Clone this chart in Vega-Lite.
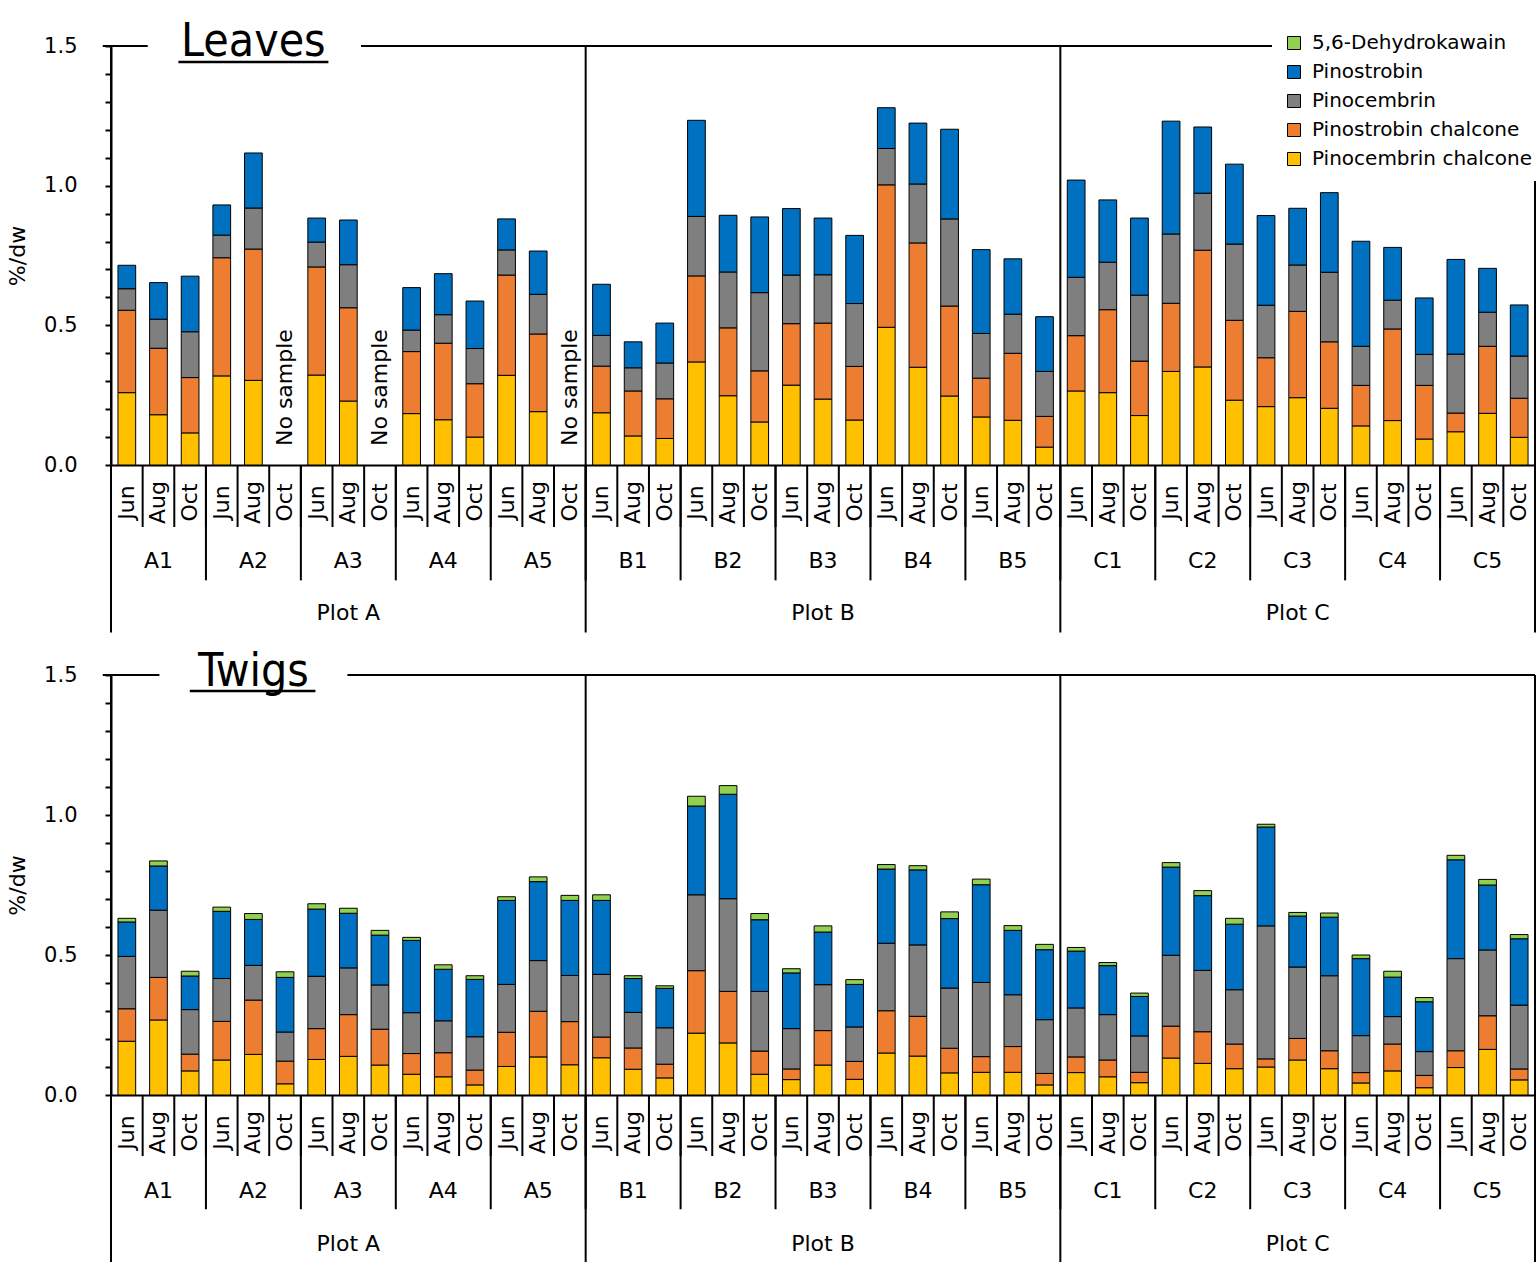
{
"$schema": "https://vega.github.io/schema/vega-lite/v6.json",
"background": "white",
"padding": {"left": 6, "top": 19, "right": 0, "bottom": 0},
"config": {"view": {"stroke": null}, "font": "DejaVu Sans", "axis": {"grid": false, "labelOverlap": false, "labelColor": "black", "domainColor": "black", "tickColor": "black", "titleColor": "black"}, "text": {"color": "black"}},
"spacing": 210,
"bounds": "flush",
"resolve": {"legend": {"color": "independent"}},
"datasets": {
"leaves": [
{"sample":"A1 Jun","plot":"Plot A","tree":"A1","month":"Jun","Pinocembrin chalcone":0.259,"Pinostrobin chalcone":0.295,"Pinocembrin":0.077,"Pinostrobin":0.084},
{"sample":"A1 Aug","plot":"Plot A","tree":"A1","month":"Aug","Pinocembrin chalcone":0.180,"Pinostrobin chalcone":0.238,"Pinocembrin":0.104,"Pinostrobin":0.131},
{"sample":"A1 Oct","plot":"Plot A","tree":"A1","month":"Oct","Pinocembrin chalcone":0.115,"Pinostrobin chalcone":0.198,"Pinocembrin":0.164,"Pinostrobin":0.199},
{"sample":"A2 Jun","plot":"Plot A","tree":"A2","month":"Jun","Pinocembrin chalcone":0.319,"Pinostrobin chalcone":0.423,"Pinocembrin":0.081,"Pinostrobin":0.108},
{"sample":"A2 Aug","plot":"Plot A","tree":"A2","month":"Aug","Pinocembrin chalcone":0.303,"Pinostrobin chalcone":0.470,"Pinocembrin":0.147,"Pinostrobin":0.197},
{"sample":"A2 Oct","plot":"Plot A","tree":"A2","month":"Oct"},
{"sample":"A3 Jun","plot":"Plot A","tree":"A3","month":"Jun","Pinocembrin chalcone":0.322,"Pinostrobin chalcone":0.387,"Pinocembrin":0.089,"Pinostrobin":0.086},
{"sample":"A3 Aug","plot":"Plot A","tree":"A3","month":"Aug","Pinocembrin chalcone":0.229,"Pinostrobin chalcone":0.334,"Pinocembrin":0.154,"Pinostrobin":0.160},
{"sample":"A3 Oct","plot":"Plot A","tree":"A3","month":"Oct"},
{"sample":"A4 Jun","plot":"Plot A","tree":"A4","month":"Jun","Pinocembrin chalcone":0.184,"Pinostrobin chalcone":0.222,"Pinocembrin":0.077,"Pinostrobin":0.152},
{"sample":"A4 Aug","plot":"Plot A","tree":"A4","month":"Aug","Pinocembrin chalcone":0.162,"Pinostrobin chalcone":0.274,"Pinocembrin":0.102,"Pinostrobin":0.147},
{"sample":"A4 Oct","plot":"Plot A","tree":"A4","month":"Oct","Pinocembrin chalcone":0.100,"Pinostrobin chalcone":0.191,"Pinocembrin":0.126,"Pinostrobin":0.170},
{"sample":"A5 Jun","plot":"Plot A","tree":"A5","month":"Jun","Pinocembrin chalcone":0.321,"Pinostrobin chalcone":0.359,"Pinocembrin":0.090,"Pinostrobin":0.111},
{"sample":"A5 Aug","plot":"Plot A","tree":"A5","month":"Aug","Pinocembrin chalcone":0.191,"Pinostrobin chalcone":0.278,"Pinocembrin":0.142,"Pinostrobin":0.155},
{"sample":"A5 Oct","plot":"Plot A","tree":"A5","month":"Oct"},
{"sample":"B1 Jun","plot":"Plot B","tree":"B1","month":"Jun","Pinocembrin chalcone":0.187,"Pinostrobin chalcone":0.167,"Pinocembrin":0.110,"Pinostrobin":0.183},
{"sample":"B1 Aug","plot":"Plot B","tree":"B1","month":"Aug","Pinocembrin chalcone":0.104,"Pinostrobin chalcone":0.161,"Pinocembrin":0.083,"Pinostrobin":0.093},
{"sample":"B1 Oct","plot":"Plot B","tree":"B1","month":"Oct","Pinocembrin chalcone":0.095,"Pinostrobin chalcone":0.142,"Pinocembrin":0.128,"Pinostrobin":0.143},
{"sample":"B2 Jun","plot":"Plot B","tree":"B2","month":"Jun","Pinocembrin chalcone":0.369,"Pinostrobin chalcone":0.308,"Pinocembrin":0.213,"Pinostrobin":0.344},
{"sample":"B2 Aug","plot":"Plot B","tree":"B2","month":"Aug","Pinocembrin chalcone":0.248,"Pinostrobin chalcone":0.243,"Pinocembrin":0.200,"Pinostrobin":0.203},
{"sample":"B2 Oct","plot":"Plot B","tree":"B2","month":"Oct","Pinocembrin chalcone":0.154,"Pinostrobin chalcone":0.183,"Pinocembrin":0.280,"Pinostrobin":0.271},
{"sample":"B3 Jun","plot":"Plot B","tree":"B3","month":"Jun","Pinocembrin chalcone":0.286,"Pinostrobin chalcone":0.220,"Pinocembrin":0.174,"Pinostrobin":0.238},
{"sample":"B3 Aug","plot":"Plot B","tree":"B3","month":"Aug","Pinocembrin chalcone":0.236,"Pinostrobin chalcone":0.272,"Pinocembrin":0.173,"Pinostrobin":0.203},
{"sample":"B3 Oct","plot":"Plot B","tree":"B3","month":"Oct","Pinocembrin chalcone":0.161,"Pinostrobin chalcone":0.192,"Pinocembrin":0.225,"Pinostrobin":0.244},
{"sample":"B4 Jun","plot":"Plot B","tree":"B4","month":"Jun","Pinocembrin chalcone":0.493,"Pinostrobin chalcone":0.510,"Pinocembrin":0.130,"Pinostrobin":0.146},
{"sample":"B4 Aug","plot":"Plot B","tree":"B4","month":"Aug","Pinocembrin chalcone":0.350,"Pinostrobin chalcone":0.445,"Pinocembrin":0.211,"Pinostrobin":0.218},
{"sample":"B4 Oct","plot":"Plot B","tree":"B4","month":"Oct","Pinocembrin chalcone":0.247,"Pinostrobin chalcone":0.322,"Pinocembrin":0.312,"Pinostrobin":0.321},
{"sample":"B5 Jun","plot":"Plot B","tree":"B5","month":"Jun","Pinocembrin chalcone":0.172,"Pinostrobin chalcone":0.139,"Pinocembrin":0.160,"Pinostrobin":0.300},
{"sample":"B5 Aug","plot":"Plot B","tree":"B5","month":"Aug","Pinocembrin chalcone":0.160,"Pinostrobin chalcone":0.240,"Pinocembrin":0.140,"Pinostrobin":0.198},
{"sample":"B5 Oct","plot":"Plot B","tree":"B5","month":"Oct","Pinocembrin chalcone":0.064,"Pinostrobin chalcone":0.110,"Pinocembrin":0.161,"Pinostrobin":0.196},
{"sample":"C1 Jun","plot":"Plot C","tree":"C1","month":"Jun","Pinocembrin chalcone":0.265,"Pinostrobin chalcone":0.198,"Pinocembrin":0.209,"Pinostrobin":0.348},
{"sample":"C1 Aug","plot":"Plot C","tree":"C1","month":"Aug","Pinocembrin chalcone":0.259,"Pinostrobin chalcone":0.297,"Pinocembrin":0.170,"Pinostrobin":0.223},
{"sample":"C1 Oct","plot":"Plot C","tree":"C1","month":"Oct","Pinocembrin chalcone":0.177,"Pinostrobin chalcone":0.195,"Pinocembrin":0.236,"Pinostrobin":0.276},
{"sample":"C2 Jun","plot":"Plot C","tree":"C2","month":"Jun","Pinocembrin chalcone":0.335,"Pinostrobin chalcone":0.244,"Pinocembrin":0.248,"Pinostrobin":0.404},
{"sample":"C2 Aug","plot":"Plot C","tree":"C2","month":"Aug","Pinocembrin chalcone":0.351,"Pinostrobin chalcone":0.418,"Pinocembrin":0.204,"Pinostrobin":0.237},
{"sample":"C2 Oct","plot":"Plot C","tree":"C2","month":"Oct","Pinocembrin chalcone":0.232,"Pinostrobin chalcone":0.286,"Pinocembrin":0.273,"Pinostrobin":0.286},
{"sample":"C3 Jun","plot":"Plot C","tree":"C3","month":"Jun","Pinocembrin chalcone":0.209,"Pinostrobin chalcone":0.175,"Pinocembrin":0.188,"Pinostrobin":0.321},
{"sample":"C3 Aug","plot":"Plot C","tree":"C3","month":"Aug","Pinocembrin chalcone":0.241,"Pinostrobin chalcone":0.309,"Pinocembrin":0.166,"Pinostrobin":0.203},
{"sample":"C3 Oct","plot":"Plot C","tree":"C3","month":"Oct","Pinocembrin chalcone":0.203,"Pinostrobin chalcone":0.238,"Pinocembrin":0.249,"Pinostrobin":0.285},
{"sample":"C4 Jun","plot":"Plot C","tree":"C4","month":"Jun","Pinocembrin chalcone":0.140,"Pinostrobin chalcone":0.145,"Pinocembrin":0.140,"Pinostrobin":0.376},
{"sample":"C4 Aug","plot":"Plot C","tree":"C4","month":"Aug","Pinocembrin chalcone":0.159,"Pinostrobin chalcone":0.328,"Pinocembrin":0.103,"Pinostrobin":0.189},
{"sample":"C4 Oct","plot":"Plot C","tree":"C4","month":"Oct","Pinocembrin chalcone":0.093,"Pinostrobin chalcone":0.192,"Pinocembrin":0.111,"Pinostrobin":0.202},
{"sample":"C5 Jun","plot":"Plot C","tree":"C5","month":"Jun","Pinocembrin chalcone":0.119,"Pinostrobin chalcone":0.067,"Pinocembrin":0.211,"Pinostrobin":0.339},
{"sample":"C5 Aug","plot":"Plot C","tree":"C5","month":"Aug","Pinocembrin chalcone":0.185,"Pinostrobin chalcone":0.240,"Pinocembrin":0.122,"Pinostrobin":0.157},
{"sample":"C5 Oct","plot":"Plot C","tree":"C5","month":"Oct","Pinocembrin chalcone":0.099,"Pinostrobin chalcone":0.140,"Pinocembrin":0.151,"Pinostrobin":0.183}
],
"twigs": [
{"sample":"A1 Jun","plot":"Plot A","tree":"A1","month":"Jun","Pinocembrin chalcone":0.192,"Pinostrobin chalcone":0.116,"Pinocembrin":0.187,"Pinostrobin":0.123,"5,6-Dehydrokawain":0.013},
{"sample":"A1 Aug","plot":"Plot A","tree":"A1","month":"Aug","Pinocembrin chalcone":0.268,"Pinostrobin chalcone":0.152,"Pinocembrin":0.240,"Pinostrobin":0.158,"5,6-Dehydrokawain":0.018},
{"sample":"A1 Oct","plot":"Plot A","tree":"A1","month":"Oct","Pinocembrin chalcone":0.086,"Pinostrobin chalcone":0.060,"Pinocembrin":0.159,"Pinostrobin":0.120,"5,6-Dehydrokawain":0.017},
{"sample":"A2 Jun","plot":"Plot A","tree":"A2","month":"Jun","Pinocembrin chalcone":0.125,"Pinostrobin chalcone":0.138,"Pinocembrin":0.153,"Pinostrobin":0.240,"5,6-Dehydrokawain":0.015},
{"sample":"A2 Aug","plot":"Plot A","tree":"A2","month":"Aug","Pinocembrin chalcone":0.145,"Pinostrobin chalcone":0.194,"Pinocembrin":0.124,"Pinostrobin":0.164,"5,6-Dehydrokawain":0.021},
{"sample":"A2 Oct","plot":"Plot A","tree":"A2","month":"Oct","Pinocembrin chalcone":0.040,"Pinostrobin chalcone":0.081,"Pinocembrin":0.104,"Pinostrobin":0.195,"5,6-Dehydrokawain":0.020},
{"sample":"A3 Jun","plot":"Plot A","tree":"A3","month":"Jun","Pinocembrin chalcone":0.127,"Pinostrobin chalcone":0.110,"Pinocembrin":0.187,"Pinostrobin":0.240,"5,6-Dehydrokawain":0.019},
{"sample":"A3 Aug","plot":"Plot A","tree":"A3","month":"Aug","Pinocembrin chalcone":0.138,"Pinostrobin chalcone":0.149,"Pinocembrin":0.167,"Pinostrobin":0.195,"5,6-Dehydrokawain":0.018},
{"sample":"A3 Oct","plot":"Plot A","tree":"A3","month":"Oct","Pinocembrin chalcone":0.107,"Pinostrobin chalcone":0.128,"Pinocembrin":0.158,"Pinostrobin":0.178,"5,6-Dehydrokawain":0.017},
{"sample":"A4 Jun","plot":"Plot A","tree":"A4","month":"Jun","Pinocembrin chalcone":0.074,"Pinostrobin chalcone":0.074,"Pinocembrin":0.146,"Pinostrobin":0.258,"5,6-Dehydrokawain":0.011},
{"sample":"A4 Aug","plot":"Plot A","tree":"A4","month":"Aug","Pinocembrin chalcone":0.065,"Pinostrobin chalcone":0.086,"Pinocembrin":0.114,"Pinostrobin":0.184,"5,6-Dehydrokawain":0.016},
{"sample":"A4 Oct","plot":"Plot A","tree":"A4","month":"Oct","Pinocembrin chalcone":0.036,"Pinostrobin chalcone":0.053,"Pinocembrin":0.119,"Pinostrobin":0.205,"5,6-Dehydrokawain":0.013},
{"sample":"A5 Jun","plot":"Plot A","tree":"A5","month":"Jun","Pinocembrin chalcone":0.102,"Pinostrobin chalcone":0.122,"Pinocembrin":0.171,"Pinostrobin":0.300,"5,6-Dehydrokawain":0.013},
{"sample":"A5 Aug","plot":"Plot A","tree":"A5","month":"Aug","Pinocembrin chalcone":0.136,"Pinostrobin chalcone":0.163,"Pinocembrin":0.181,"Pinostrobin":0.282,"5,6-Dehydrokawain":0.017},
{"sample":"A5 Oct","plot":"Plot A","tree":"A5","month":"Oct","Pinocembrin chalcone":0.108,"Pinostrobin chalcone":0.154,"Pinocembrin":0.165,"Pinostrobin":0.268,"5,6-Dehydrokawain":0.018},
{"sample":"B1 Jun","plot":"Plot B","tree":"B1","month":"Jun","Pinocembrin chalcone":0.133,"Pinostrobin chalcone":0.074,"Pinocembrin":0.224,"Pinostrobin":0.264,"5,6-Dehydrokawain":0.020},
{"sample":"B1 Aug","plot":"Plot B","tree":"B1","month":"Aug","Pinocembrin chalcone":0.092,"Pinostrobin chalcone":0.076,"Pinocembrin":0.127,"Pinostrobin":0.121,"5,6-Dehydrokawain":0.010},
{"sample":"B1 Oct","plot":"Plot B","tree":"B1","month":"Oct","Pinocembrin chalcone":0.061,"Pinostrobin chalcone":0.049,"Pinocembrin":0.130,"Pinostrobin":0.141,"5,6-Dehydrokawain":0.009},
{"sample":"B2 Jun","plot":"Plot B","tree":"B2","month":"Jun","Pinocembrin chalcone":0.221,"Pinostrobin chalcone":0.223,"Pinocembrin":0.271,"Pinostrobin":0.317,"5,6-Dehydrokawain":0.035},
{"sample":"B2 Aug","plot":"Plot B","tree":"B2","month":"Aug","Pinocembrin chalcone":0.186,"Pinostrobin chalcone":0.184,"Pinocembrin":0.331,"Pinostrobin":0.373,"5,6-Dehydrokawain":0.031},
{"sample":"B2 Oct","plot":"Plot B","tree":"B2","month":"Oct","Pinocembrin chalcone":0.074,"Pinostrobin chalcone":0.083,"Pinocembrin":0.213,"Pinostrobin":0.256,"5,6-Dehydrokawain":0.022},
{"sample":"B3 Jun","plot":"Plot B","tree":"B3","month":"Jun","Pinocembrin chalcone":0.055,"Pinostrobin chalcone":0.038,"Pinocembrin":0.144,"Pinostrobin":0.199,"5,6-Dehydrokawain":0.015},
{"sample":"B3 Aug","plot":"Plot B","tree":"B3","month":"Aug","Pinocembrin chalcone":0.107,"Pinostrobin chalcone":0.123,"Pinocembrin":0.164,"Pinostrobin":0.188,"5,6-Dehydrokawain":0.022},
{"sample":"B3 Oct","plot":"Plot B","tree":"B3","month":"Oct","Pinocembrin chalcone":0.056,"Pinostrobin chalcone":0.064,"Pinocembrin":0.123,"Pinostrobin":0.152,"5,6-Dehydrokawain":0.017},
{"sample":"B4 Jun","plot":"Plot B","tree":"B4","month":"Jun","Pinocembrin chalcone":0.150,"Pinostrobin chalcone":0.151,"Pinocembrin":0.241,"Pinostrobin":0.265,"5,6-Dehydrokawain":0.016},
{"sample":"B4 Aug","plot":"Plot B","tree":"B4","month":"Aug","Pinocembrin chalcone":0.139,"Pinostrobin chalcone":0.142,"Pinocembrin":0.255,"Pinostrobin":0.268,"5,6-Dehydrokawain":0.015},
{"sample":"B4 Oct","plot":"Plot B","tree":"B4","month":"Oct","Pinocembrin chalcone":0.079,"Pinostrobin chalcone":0.088,"Pinocembrin":0.215,"Pinostrobin":0.248,"5,6-Dehydrokawain":0.024},
{"sample":"B5 Jun","plot":"Plot B","tree":"B5","month":"Jun","Pinocembrin chalcone":0.081,"Pinostrobin chalcone":0.056,"Pinocembrin":0.265,"Pinostrobin":0.349,"5,6-Dehydrokawain":0.020},
{"sample":"B5 Aug","plot":"Plot B","tree":"B5","month":"Aug","Pinocembrin chalcone":0.081,"Pinostrobin chalcone":0.092,"Pinocembrin":0.185,"Pinostrobin":0.230,"5,6-Dehydrokawain":0.017},
{"sample":"B5 Oct","plot":"Plot B","tree":"B5","month":"Oct","Pinocembrin chalcone":0.036,"Pinostrobin chalcone":0.041,"Pinocembrin":0.192,"Pinostrobin":0.250,"5,6-Dehydrokawain":0.019},
{"sample":"C1 Jun","plot":"Plot C","tree":"C1","month":"Jun","Pinocembrin chalcone":0.080,"Pinostrobin chalcone":0.056,"Pinocembrin":0.175,"Pinostrobin":0.203,"5,6-Dehydrokawain":0.013},
{"sample":"C1 Aug","plot":"Plot C","tree":"C1","month":"Aug","Pinocembrin chalcone":0.065,"Pinostrobin chalcone":0.060,"Pinocembrin":0.162,"Pinostrobin":0.175,"5,6-Dehydrokawain":0.011},
{"sample":"C1 Oct","plot":"Plot C","tree":"C1","month":"Oct","Pinocembrin chalcone":0.044,"Pinostrobin chalcone":0.037,"Pinocembrin":0.130,"Pinostrobin":0.141,"5,6-Dehydrokawain":0.012},
{"sample":"C2 Jun","plot":"Plot C","tree":"C2","month":"Jun","Pinocembrin chalcone":0.132,"Pinostrobin chalcone":0.114,"Pinocembrin":0.253,"Pinostrobin":0.315,"5,6-Dehydrokawain":0.016},
{"sample":"C2 Aug","plot":"Plot C","tree":"C2","month":"Aug","Pinocembrin chalcone":0.113,"Pinostrobin chalcone":0.113,"Pinocembrin":0.219,"Pinostrobin":0.267,"5,6-Dehydrokawain":0.018},
{"sample":"C2 Oct","plot":"Plot C","tree":"C2","month":"Oct","Pinocembrin chalcone":0.094,"Pinostrobin chalcone":0.088,"Pinocembrin":0.194,"Pinostrobin":0.234,"5,6-Dehydrokawain":0.021},
{"sample":"C3 Jun","plot":"Plot C","tree":"C3","month":"Jun","Pinocembrin chalcone":0.100,"Pinostrobin chalcone":0.029,"Pinocembrin":0.475,"Pinostrobin":0.353,"5,6-Dehydrokawain":0.010},
{"sample":"C3 Aug","plot":"Plot C","tree":"C3","month":"Aug","Pinocembrin chalcone":0.125,"Pinostrobin chalcone":0.077,"Pinocembrin":0.255,"Pinostrobin":0.182,"5,6-Dehydrokawain":0.013},
{"sample":"C3 Oct","plot":"Plot C","tree":"C3","month":"Oct","Pinocembrin chalcone":0.094,"Pinostrobin chalcone":0.064,"Pinocembrin":0.268,"Pinostrobin":0.209,"5,6-Dehydrokawain":0.015},
{"sample":"C4 Jun","plot":"Plot C","tree":"C4","month":"Jun","Pinocembrin chalcone":0.043,"Pinostrobin chalcone":0.037,"Pinocembrin":0.132,"Pinostrobin":0.275,"5,6-Dehydrokawain":0.013},
{"sample":"C4 Aug","plot":"Plot C","tree":"C4","month":"Aug","Pinocembrin chalcone":0.086,"Pinostrobin chalcone":0.096,"Pinocembrin":0.098,"Pinostrobin":0.141,"5,6-Dehydrokawain":0.021},
{"sample":"C4 Oct","plot":"Plot C","tree":"C4","month":"Oct","Pinocembrin chalcone":0.026,"Pinostrobin chalcone":0.044,"Pinocembrin":0.085,"Pinostrobin":0.178,"5,6-Dehydrokawain":0.015},
{"sample":"C5 Jun","plot":"Plot C","tree":"C5","month":"Jun","Pinocembrin chalcone":0.098,"Pinostrobin chalcone":0.060,"Pinocembrin":0.329,"Pinostrobin":0.353,"5,6-Dehydrokawain":0.016},
{"sample":"C5 Aug","plot":"Plot C","tree":"C5","month":"Aug","Pinocembrin chalcone":0.163,"Pinostrobin chalcone":0.120,"Pinocembrin":0.235,"Pinostrobin":0.232,"5,6-Dehydrokawain":0.020},
{"sample":"C5 Oct","plot":"Plot C","tree":"C5","month":"Oct","Pinocembrin chalcone":0.054,"Pinostrobin chalcone":0.039,"Pinocembrin":0.228,"Pinostrobin":0.237,"5,6-Dehydrokawain":0.015}
]
},
"vconcat": [
{
"width": 1424, "height": 419,
"data": {"name": "leaves"},
"layer": [
{"transform": [{"fold": ["Pinocembrin chalcone","Pinostrobin chalcone","Pinocembrin","Pinostrobin","5,6-Dehydrokawain"], "as": ["compound","value"]}],
 "mark": {"type": "bar", "width": {"band": 0.56}, "stroke": "black", "strokeWidth": 1},
 "encoding": {
  "x": {"field": "sample", "type": "nominal", "scale": {"domain": ["A1 Jun","A1 Aug","A1 Oct","A2 Jun","A2 Aug","A2 Oct","A3 Jun","A3 Aug","A3 Oct","A4 Jun","A4 Aug","A4 Oct","A5 Jun","A5 Aug","A5 Oct","B1 Jun","B1 Aug","B1 Oct","B2 Jun","B2 Aug","B2 Oct","B3 Jun","B3 Aug","B3 Oct","B4 Jun","B4 Aug","B4 Oct","B5 Jun","B5 Aug","B5 Oct","C1 Jun","C1 Aug","C1 Oct","C2 Jun","C2 Aug","C2 Oct","C3 Jun","C3 Aug","C3 Oct","C4 Jun","C4 Aug","C4 Oct","C5 Jun","C5 Aug","C5 Oct"], "paddingInner": 0, "paddingOuter": 0},
   "axis": {"title": null, "labelAngle": -90, "labelAlign": "center", "labelBaseline": "middle", "labelPadding": 37, "ticks": false, "tickSize": 0, "labelExpr": "split(datum.label, ' ')[1]", "labelFontSize": 22, "labelOverlap": false, "domainWidth": 2}},
  "y": {"field": "value", "type": "quantitative", "stack": "zero", "scale": {"domain": [0, 1.5], "nice": false},
   "axis": {"title": "%/dw", "values": [0,0.1,0.2,0.3,0.4,0.5,0.6,0.7,0.8,0.9,1.0,1.1,1.2,1.3,1.4,1.5], "format": ".1f", "labelOverlap": false, "labelExpr": "indexof(['0.0','0.5','1.0','1.5'], datum.label) >= 0 ? datum.label : ''", "tickSize": 6, "tickWidth": 2, "domainWidth": 2, "labelFontSize": 21, "labelPadding": 28, "titleFontSize": 22, "titleFontWeight": "normal", "titlePadding": 14}},
  "order": {"field": "sample", "type": "ordinal"},
  "color": {"field": "compound", "type": "nominal",
   "scale": {"domain": ["Pinocembrin chalcone","Pinostrobin chalcone","Pinocembrin","Pinostrobin","5,6-Dehydrokawain"], "range": ["#FFC000","#ED7D31","#7F7F7F","#0070C0","#92D050"]},
   "legend": {"values": ["5,6-Dehydrokawain","Pinostrobin","Pinocembrin","Pinostrobin chalcone","Pinocembrin chalcone"], "orient": "none", "legendX": 1161, "legendY": -25, "title": null, "symbolType": "square", "symbolSize": 169, "symbolStrokeColor": "black", "symbolStrokeWidth": 1, "labelFontSize": 20, "labelOffset": 8, "rowPadding": 9, "padding": 12, "fillColor": "white", "labelColor": "black", "labelLimit": 400}}
 }},
{"mark": {"type": "rule", "strokeWidth": 2, "color": "black"},
 "encoding": {"x": {"field": "sample", "type": "nominal", "bandPosition": 0}, "y": {"datum": 0, "axis": {"title": "%/dw", "values": [0,0.1,0.2,0.3,0.4,0.5,0.6,0.7,0.8,0.9,1.0,1.1,1.2,1.3,1.4,1.5], "format": ".1f", "labelOverlap": false, "labelExpr": "indexof(['0.0','0.5','1.0','1.5'], datum.label) >= 0 ? datum.label : ''", "tickSize": 6, "tickWidth": 2, "domainWidth": 2, "labelFontSize": 21, "labelPadding": 28, "titleFontSize": 22, "titleFontWeight": "normal", "titlePadding": 14}}, "y2": {"datum": -0.222}}},
{"transform": [{"filter": "datum.month == 'Jun'"}],
 "mark": {"type": "rule", "strokeWidth": 2, "color": "black"},
 "encoding": {"x": {"field": "sample", "type": "nominal", "bandPosition": 0}, "y": {"datum": 0, "axis": {"title": "%/dw", "values": [0,0.1,0.2,0.3,0.4,0.5,0.6,0.7,0.8,0.9,1.0,1.1,1.2,1.3,1.4,1.5], "format": ".1f", "labelOverlap": false, "labelExpr": "indexof(['0.0','0.5','1.0','1.5'], datum.label) >= 0 ? datum.label : ''", "tickSize": 6, "tickWidth": 2, "domainWidth": 2, "labelFontSize": 21, "labelPadding": 28, "titleFontSize": 22, "titleFontWeight": "normal", "titlePadding": 14}}, "y2": {"datum": -0.413}}},
{"transform": [{"filter": "datum.month == 'Jun' && (datum.tree == 'A1' || datum.tree == 'B1' || datum.tree == 'C1')"}],
 "mark": {"type": "rule", "strokeWidth": 2, "color": "black"},
 "encoding": {"x": {"field": "sample", "type": "nominal", "bandPosition": 0}, "y": {"datum": 1.5, "axis": {"title": "%/dw", "values": [0,0.1,0.2,0.3,0.4,0.5,0.6,0.7,0.8,0.9,1.0,1.1,1.2,1.3,1.4,1.5], "format": ".1f", "labelOverlap": false, "labelExpr": "indexof(['0.0','0.5','1.0','1.5'], datum.label) >= 0 ? datum.label : ''", "tickSize": 6, "tickWidth": 2, "domainWidth": 2, "labelFontSize": 21, "labelPadding": 28, "titleFontSize": 22, "titleFontWeight": "normal", "titlePadding": 14}}, "y2": {"datum": -0.6}}},
{"transform": [{"filter": "datum.sample == 'C5 Oct'"}],
 "mark": {"type": "rule", "strokeWidth": 2, "color": "black"},
 "encoding": {"x": {"field": "sample", "type": "nominal", "bandPosition": 1}, "y": {"datum": 1.5, "axis": {"title": "%/dw", "values": [0,0.1,0.2,0.3,0.4,0.5,0.6,0.7,0.8,0.9,1.0,1.1,1.2,1.3,1.4,1.5], "format": ".1f", "labelOverlap": false, "labelExpr": "indexof(['0.0','0.5','1.0','1.5'], datum.label) >= 0 ? datum.label : ''", "tickSize": 6, "tickWidth": 2, "domainWidth": 2, "labelFontSize": 21, "labelPadding": 28, "titleFontSize": 22, "titleFontWeight": "normal", "titlePadding": 14}}, "y2": {"datum": -0.6}}},
{"data": {"values": [{}]},
 "mark": {"type": "rule", "strokeWidth": 2, "color": "black"},
 "encoding": {"x": {"datum": "A1 Jun", "bandPosition": -0.26}, "x2": {"datum": "A1 Aug", "bandPosition": 0.16}, "y": {"datum": 1.5, "axis": {"title": "%/dw", "values": [0,0.1,0.2,0.3,0.4,0.5,0.6,0.7,0.8,0.9,1.0,1.1,1.2,1.3,1.4,1.5], "format": ".1f", "labelOverlap": false, "labelExpr": "indexof(['0.0','0.5','1.0','1.5'], datum.label) >= 0 ? datum.label : ''", "tickSize": 6, "tickWidth": 2, "domainWidth": 2, "labelFontSize": 21, "labelPadding": 28, "titleFontSize": 22, "titleFontWeight": "normal", "titlePadding": 14}}}},
{"data": {"values": [{}]},
 "mark": {"type": "rule", "strokeWidth": 2, "color": "black"},
 "encoding": {"x": {"datum": "A3 Aug", "bandPosition": 0.9}, "x2": {"datum": "C5 Oct", "bandPosition": 1}, "y": {"datum": 1.5, "axis": {"title": "%/dw", "values": [0,0.1,0.2,0.3,0.4,0.5,0.6,0.7,0.8,0.9,1.0,1.1,1.2,1.3,1.4,1.5], "format": ".1f", "labelOverlap": false, "labelExpr": "indexof(['0.0','0.5','1.0','1.5'], datum.label) >= 0 ? datum.label : ''", "tickSize": 6, "tickWidth": 2, "domainWidth": 2, "labelFontSize": 21, "labelPadding": 28, "titleFontSize": 22, "titleFontWeight": "normal", "titlePadding": 14}}}},
{"data": {"values": [{"title": "Leaves"}]},
 "mark": {"type": "text", "font": "DejaVu Sans Condensed, DejaVu Sans", "fontSize": 46, "align": "center", "baseline": "alphabetic"},
 "encoding": {"x": {"datum": "A2 Aug"}, "y": {"datum": 1.463, "axis": {"title": "%/dw", "values": [0,0.1,0.2,0.3,0.4,0.5,0.6,0.7,0.8,0.9,1.0,1.1,1.2,1.3,1.4,1.5], "format": ".1f", "labelOverlap": false, "labelExpr": "indexof(['0.0','0.5','1.0','1.5'], datum.label) >= 0 ? datum.label : ''", "tickSize": 6, "tickWidth": 2, "domainWidth": 2, "labelFontSize": 21, "labelPadding": 28, "titleFontSize": 22, "titleFontWeight": "normal", "titlePadding": 14}}, "text": {"field": "title"}}},
{"data": {"values": [{}]},
 "mark": {"type": "rule", "strokeWidth": 2.5, "color": "black"},
 "encoding": {"x": {"datum": "A1 Oct", "bandPosition": 0.13}, "x2": {"datum": "A3 Jun", "bandPosition": 0.87}, "y": {"datum": 1.443, "axis": {"title": "%/dw", "values": [0,0.1,0.2,0.3,0.4,0.5,0.6,0.7,0.8,0.9,1.0,1.1,1.2,1.3,1.4,1.5], "format": ".1f", "labelOverlap": false, "labelExpr": "indexof(['0.0','0.5','1.0','1.5'], datum.label) >= 0 ? datum.label : ''", "tickSize": 6, "tickWidth": 2, "domainWidth": 2, "labelFontSize": 21, "labelPadding": 28, "titleFontSize": 22, "titleFontWeight": "normal", "titlePadding": 14}}}},
{"transform": [{"filter": "datum.month == 'Aug'"}],
 "mark": {"type": "text", "fontSize": 22, "baseline": "middle", "align": "center"},
 "encoding": {"x": {"field": "sample", "type": "nominal"}, "y": {"datum": -0.343, "axis": {"title": "%/dw", "values": [0,0.1,0.2,0.3,0.4,0.5,0.6,0.7,0.8,0.9,1.0,1.1,1.2,1.3,1.4,1.5], "format": ".1f", "labelOverlap": false, "labelExpr": "indexof(['0.0','0.5','1.0','1.5'], datum.label) >= 0 ? datum.label : ''", "tickSize": 6, "tickWidth": 2, "domainWidth": 2, "labelFontSize": 21, "labelPadding": 28, "titleFontSize": 22, "titleFontWeight": "normal", "titlePadding": 14}}, "text": {"field": "tree"}}},
{"transform": [{"filter": "datum.month == 'Aug' && (datum.tree == 'A3' || datum.tree == 'B3' || datum.tree == 'C3')"}],
 "mark": {"type": "text", "fontSize": 22, "baseline": "middle", "align": "center"},
 "encoding": {"x": {"field": "sample", "type": "nominal"}, "y": {"datum": -0.531, "axis": {"title": "%/dw", "values": [0,0.1,0.2,0.3,0.4,0.5,0.6,0.7,0.8,0.9,1.0,1.1,1.2,1.3,1.4,1.5], "format": ".1f", "labelOverlap": false, "labelExpr": "indexof(['0.0','0.5','1.0','1.5'], datum.label) >= 0 ? datum.label : ''", "tickSize": 6, "tickWidth": 2, "domainWidth": 2, "labelFontSize": 21, "labelPadding": 28, "titleFontSize": 22, "titleFontWeight": "normal", "titlePadding": 14}}, "text": {"field": "plot"}}},
{"transform": [{"filter": "datum['Pinocembrin chalcone'] == null"}],
 "mark": {"type": "text", "fontSize": 22, "baseline": "middle", "align": "left", "angle": 270, "text": "No sample"},
 "encoding": {"x": {"field": "sample", "type": "nominal"}, "y": {"datum": 0.068, "axis": {"title": "%/dw", "values": [0,0.1,0.2,0.3,0.4,0.5,0.6,0.7,0.8,0.9,1.0,1.1,1.2,1.3,1.4,1.5], "format": ".1f", "labelOverlap": false, "labelExpr": "indexof(['0.0','0.5','1.0','1.5'], datum.label) >= 0 ? datum.label : ''", "tickSize": 6, "tickWidth": 2, "domainWidth": 2, "labelFontSize": 21, "labelPadding": 28, "titleFontSize": 22, "titleFontWeight": "normal", "titlePadding": 14}}}}
]
},
{
"width": 1424, "height": 420,
"data": {"name": "twigs"},
"layer": [
{"transform": [{"fold": ["Pinocembrin chalcone","Pinostrobin chalcone","Pinocembrin","Pinostrobin","5,6-Dehydrokawain"], "as": ["compound","value"]}],
 "mark": {"type": "bar", "width": {"band": 0.56}, "stroke": "black", "strokeWidth": 1},
 "encoding": {
  "x": {"field": "sample", "type": "nominal", "scale": {"domain": ["A1 Jun","A1 Aug","A1 Oct","A2 Jun","A2 Aug","A2 Oct","A3 Jun","A3 Aug","A3 Oct","A4 Jun","A4 Aug","A4 Oct","A5 Jun","A5 Aug","A5 Oct","B1 Jun","B1 Aug","B1 Oct","B2 Jun","B2 Aug","B2 Oct","B3 Jun","B3 Aug","B3 Oct","B4 Jun","B4 Aug","B4 Oct","B5 Jun","B5 Aug","B5 Oct","C1 Jun","C1 Aug","C1 Oct","C2 Jun","C2 Aug","C2 Oct","C3 Jun","C3 Aug","C3 Oct","C4 Jun","C4 Aug","C4 Oct","C5 Jun","C5 Aug","C5 Oct"], "paddingInner": 0, "paddingOuter": 0},
   "axis": {"title": null, "labelAngle": -90, "labelAlign": "center", "labelBaseline": "middle", "labelPadding": 37, "ticks": false, "tickSize": 0, "labelExpr": "split(datum.label, ' ')[1]", "labelFontSize": 22, "labelOverlap": false, "domainWidth": 2}},
  "y": {"field": "value", "type": "quantitative", "stack": "zero", "scale": {"domain": [0, 1.5], "nice": false},
   "axis": {"title": "%/dw", "values": [0,0.1,0.2,0.3,0.4,0.5,0.6,0.7,0.8,0.9,1.0,1.1,1.2,1.3,1.4,1.5], "format": ".1f", "labelOverlap": false, "labelExpr": "indexof(['0.0','0.5','1.0','1.5'], datum.label) >= 0 ? datum.label : ''", "tickSize": 6, "tickWidth": 2, "domainWidth": 2, "labelFontSize": 21, "labelPadding": 28, "titleFontSize": 22, "titleFontWeight": "normal", "titlePadding": 14}},
  "order": {"field": "sample", "type": "ordinal"},
  "color": {"field": "compound", "type": "nominal",
   "scale": {"domain": ["Pinocembrin chalcone","Pinostrobin chalcone","Pinocembrin","Pinostrobin","5,6-Dehydrokawain"], "range": ["#FFC000","#ED7D31","#7F7F7F","#0070C0","#92D050"]},
   "legend": null}
 }},
{"mark": {"type": "rule", "strokeWidth": 2, "color": "black"},
 "encoding": {"x": {"field": "sample", "type": "nominal", "bandPosition": 0}, "y": {"datum": 0, "axis": {"title": "%/dw", "values": [0,0.1,0.2,0.3,0.4,0.5,0.6,0.7,0.8,0.9,1.0,1.1,1.2,1.3,1.4,1.5], "format": ".1f", "labelOverlap": false, "labelExpr": "indexof(['0.0','0.5','1.0','1.5'], datum.label) >= 0 ? datum.label : ''", "tickSize": 6, "tickWidth": 2, "domainWidth": 2, "labelFontSize": 21, "labelPadding": 28, "titleFontSize": 22, "titleFontWeight": "normal", "titlePadding": 14}}, "y2": {"datum": -0.218}}},
{"transform": [{"filter": "datum.month == 'Jun'"}],
 "mark": {"type": "rule", "strokeWidth": 2, "color": "black"},
 "encoding": {"x": {"field": "sample", "type": "nominal", "bandPosition": 0}, "y": {"datum": 0, "axis": {"title": "%/dw", "values": [0,0.1,0.2,0.3,0.4,0.5,0.6,0.7,0.8,0.9,1.0,1.1,1.2,1.3,1.4,1.5], "format": ".1f", "labelOverlap": false, "labelExpr": "indexof(['0.0','0.5','1.0','1.5'], datum.label) >= 0 ? datum.label : ''", "tickSize": 6, "tickWidth": 2, "domainWidth": 2, "labelFontSize": 21, "labelPadding": 28, "titleFontSize": 22, "titleFontWeight": "normal", "titlePadding": 14}}, "y2": {"datum": -0.408}}},
{"transform": [{"filter": "datum.month == 'Jun' && (datum.tree == 'A1' || datum.tree == 'B1' || datum.tree == 'C1')"}],
 "mark": {"type": "rule", "strokeWidth": 2, "color": "black"},
 "encoding": {"x": {"field": "sample", "type": "nominal", "bandPosition": 0}, "y": {"datum": 1.5, "axis": {"title": "%/dw", "values": [0,0.1,0.2,0.3,0.4,0.5,0.6,0.7,0.8,0.9,1.0,1.1,1.2,1.3,1.4,1.5], "format": ".1f", "labelOverlap": false, "labelExpr": "indexof(['0.0','0.5','1.0','1.5'], datum.label) >= 0 ? datum.label : ''", "tickSize": 6, "tickWidth": 2, "domainWidth": 2, "labelFontSize": 21, "labelPadding": 28, "titleFontSize": 22, "titleFontWeight": "normal", "titlePadding": 14}}, "y2": {"datum": -0.61}}},
{"transform": [{"filter": "datum.sample == 'C5 Oct'"}],
 "mark": {"type": "rule", "strokeWidth": 2, "color": "black"},
 "encoding": {"x": {"field": "sample", "type": "nominal", "bandPosition": 1}, "y": {"datum": 1.5, "axis": {"title": "%/dw", "values": [0,0.1,0.2,0.3,0.4,0.5,0.6,0.7,0.8,0.9,1.0,1.1,1.2,1.3,1.4,1.5], "format": ".1f", "labelOverlap": false, "labelExpr": "indexof(['0.0','0.5','1.0','1.5'], datum.label) >= 0 ? datum.label : ''", "tickSize": 6, "tickWidth": 2, "domainWidth": 2, "labelFontSize": 21, "labelPadding": 28, "titleFontSize": 22, "titleFontWeight": "normal", "titlePadding": 14}}, "y2": {"datum": -0.61}}},
{"data": {"values": [{}]},
 "mark": {"type": "rule", "strokeWidth": 2, "color": "black"},
 "encoding": {"x": {"datum": "A1 Jun", "bandPosition": -0.26}, "x2": {"datum": "A1 Aug", "bandPosition": 0.53}, "y": {"datum": 1.5, "axis": {"title": "%/dw", "values": [0,0.1,0.2,0.3,0.4,0.5,0.6,0.7,0.8,0.9,1.0,1.1,1.2,1.3,1.4,1.5], "format": ".1f", "labelOverlap": false, "labelExpr": "indexof(['0.0','0.5','1.0','1.5'], datum.label) >= 0 ? datum.label : ''", "tickSize": 6, "tickWidth": 2, "domainWidth": 2, "labelFontSize": 21, "labelPadding": 28, "titleFontSize": 22, "titleFontWeight": "normal", "titlePadding": 14}}}},
{"data": {"values": [{}]},
 "mark": {"type": "rule", "strokeWidth": 2, "color": "black"},
 "encoding": {"x": {"datum": "A3 Aug", "bandPosition": 0.47}, "x2": {"datum": "C5 Oct", "bandPosition": 1}, "y": {"datum": 1.5, "axis": {"title": "%/dw", "values": [0,0.1,0.2,0.3,0.4,0.5,0.6,0.7,0.8,0.9,1.0,1.1,1.2,1.3,1.4,1.5], "format": ".1f", "labelOverlap": false, "labelExpr": "indexof(['0.0','0.5','1.0','1.5'], datum.label) >= 0 ? datum.label : ''", "tickSize": 6, "tickWidth": 2, "domainWidth": 2, "labelFontSize": 21, "labelPadding": 28, "titleFontSize": 22, "titleFontWeight": "normal", "titlePadding": 14}}}},
{"data": {"values": [{"title": "Twigs"}]},
 "mark": {"type": "text", "font": "DejaVu Sans Condensed, DejaVu Sans", "fontSize": 46, "align": "center", "baseline": "alphabetic"},
 "encoding": {"x": {"datum": "A2 Aug"}, "y": {"datum": 1.461, "axis": {"title": "%/dw", "values": [0,0.1,0.2,0.3,0.4,0.5,0.6,0.7,0.8,0.9,1.0,1.1,1.2,1.3,1.4,1.5], "format": ".1f", "labelOverlap": false, "labelExpr": "indexof(['0.0','0.5','1.0','1.5'], datum.label) >= 0 ? datum.label : ''", "tickSize": 6, "tickWidth": 2, "domainWidth": 2, "labelFontSize": 21, "labelPadding": 28, "titleFontSize": 22, "titleFontWeight": "normal", "titlePadding": 14}}, "text": {"field": "title"}}},
{"data": {"values": [{}]},
 "mark": {"type": "rule", "strokeWidth": 2.5, "color": "black"},
 "encoding": {"x": {"datum": "A1 Oct", "bandPosition": 0.49}, "x2": {"datum": "A3 Jun", "bandPosition": 0.46}, "y": {"datum": 1.443, "axis": {"title": "%/dw", "values": [0,0.1,0.2,0.3,0.4,0.5,0.6,0.7,0.8,0.9,1.0,1.1,1.2,1.3,1.4,1.5], "format": ".1f", "labelOverlap": false, "labelExpr": "indexof(['0.0','0.5','1.0','1.5'], datum.label) >= 0 ? datum.label : ''", "tickSize": 6, "tickWidth": 2, "domainWidth": 2, "labelFontSize": 21, "labelPadding": 28, "titleFontSize": 22, "titleFontWeight": "normal", "titlePadding": 14}}}},
{"transform": [{"filter": "datum.month == 'Aug'"}],
 "mark": {"type": "text", "fontSize": 22, "baseline": "middle", "align": "center"},
 "encoding": {"x": {"field": "sample", "type": "nominal"}, "y": {"datum": -0.343, "axis": {"title": "%/dw", "values": [0,0.1,0.2,0.3,0.4,0.5,0.6,0.7,0.8,0.9,1.0,1.1,1.2,1.3,1.4,1.5], "format": ".1f", "labelOverlap": false, "labelExpr": "indexof(['0.0','0.5','1.0','1.5'], datum.label) >= 0 ? datum.label : ''", "tickSize": 6, "tickWidth": 2, "domainWidth": 2, "labelFontSize": 21, "labelPadding": 28, "titleFontSize": 22, "titleFontWeight": "normal", "titlePadding": 14}}, "text": {"field": "tree"}}},
{"transform": [{"filter": "datum.month == 'Aug' && (datum.tree == 'A3' || datum.tree == 'B3' || datum.tree == 'C3')"}],
 "mark": {"type": "text", "fontSize": 22, "baseline": "middle", "align": "center"},
 "encoding": {"x": {"field": "sample", "type": "nominal"}, "y": {"datum": -0.531, "axis": {"title": "%/dw", "values": [0,0.1,0.2,0.3,0.4,0.5,0.6,0.7,0.8,0.9,1.0,1.1,1.2,1.3,1.4,1.5], "format": ".1f", "labelOverlap": false, "labelExpr": "indexof(['0.0','0.5','1.0','1.5'], datum.label) >= 0 ? datum.label : ''", "tickSize": 6, "tickWidth": 2, "domainWidth": 2, "labelFontSize": 21, "labelPadding": 28, "titleFontSize": 22, "titleFontWeight": "normal", "titlePadding": 14}}, "text": {"field": "plot"}}}
]
}
]
}
